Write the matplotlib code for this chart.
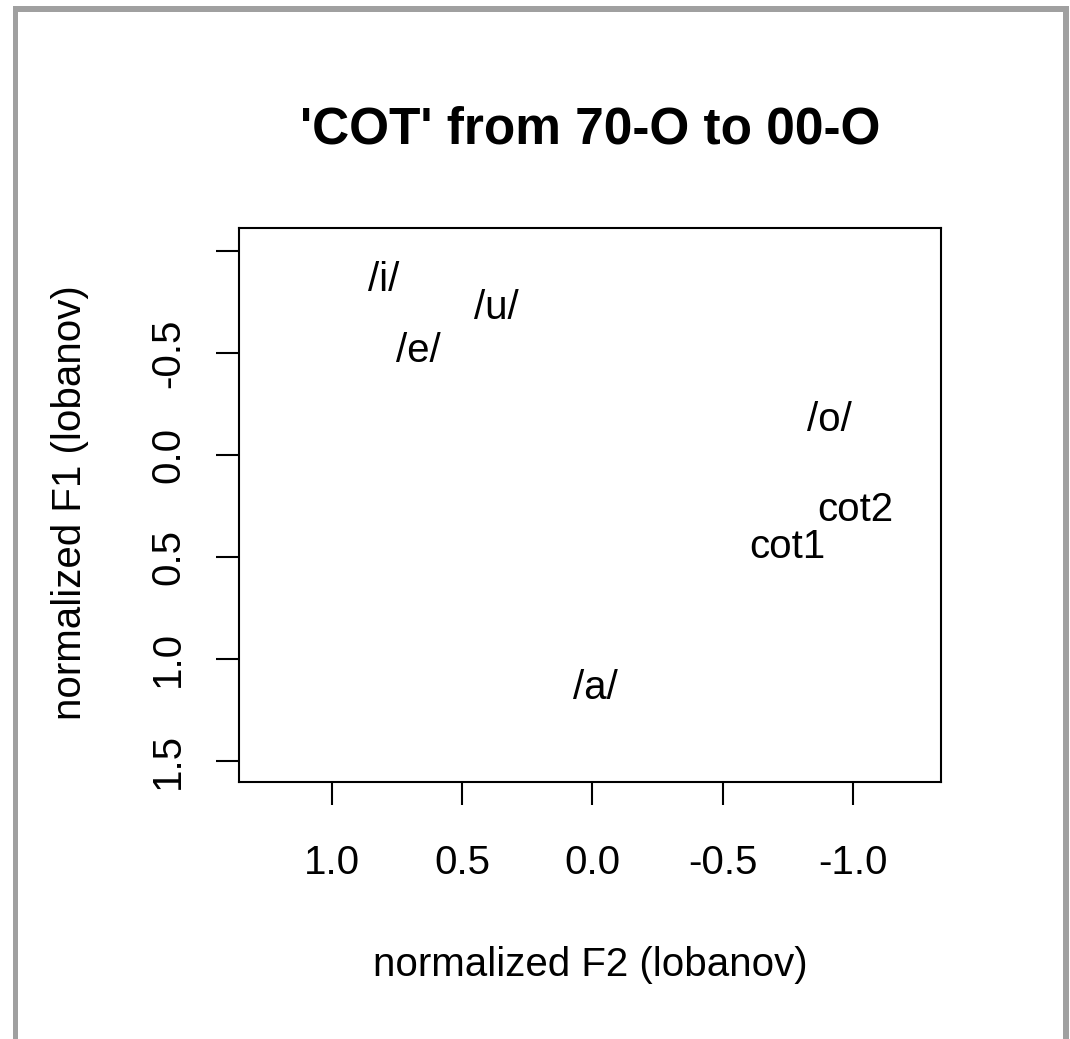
import matplotlib
matplotlib.use('Agg')
import matplotlib.pyplot as plt
from matplotlib.patches import Rectangle

plt.rcParams['font.family'] = ['Liberation Sans', 'DejaVu Sans']

# vowel / token labels and their lobanov-normalized positions
labels = ['/i/', '/u/', '/e/', '/o/', 'cot2', 'cot1', '/a/']
f2 = [0.80, 0.37, 0.67, -0.91, -1.01, -0.75, -0.01]
f1 = [-0.86, -0.72, -0.51, -0.17, 0.27, 0.45, 1.14]

xticks = [1.0, 0.5, 0.0, -0.5, -1.0]
xticklabels = ['1.0', '0.5', '0.0', '-0.5', '-1.0']
yticks = [-1.0, -0.5, 0.0, 0.5, 1.0, 1.5]
yticklabels = ['', '-0.5', '0.0', '0.5', '1.0', '1.5']

W, H = 1070, 1039
fig = plt.figure(figsize=(W / 100, H / 100), dpi=100)

# grey frame around the picture (no bottom edge)
grey = '#a0a0a0'
fig.add_artist(Rectangle((13 / W, 1 - 12 / H), (1069 - 13) / W, 6 / H,
                         transform=fig.transFigure, color=grey, lw=0))
fig.add_artist(Rectangle((13 / W, 0), 5 / W, 1 - 6 / H,
                         transform=fig.transFigure, color=grey, lw=0))
fig.add_artist(Rectangle((1063 / W, 0), 6 / W, 1 - 6 / H,
                         transform=fig.transFigure, color=grey, lw=0))

ax = fig.add_axes([239 / W, 1 - 782 / H, (941 - 239) / W, (782 - 228) / H])
ax.set_xlim(1.357, -1.338)
ax.set_ylim(1.603, -1.113)

for lab, x, y in zip(labels, f2, f1):
    ax.text(x, y, lab, fontsize=29, ha='center', va='center')

ax.set_xticks(xticks)
ax.set_xticklabels(xticklabels, fontsize=29)
ax.set_yticks(yticks)
ax.set_yticklabels(yticklabels, fontsize=29, rotation=90, va='center')
ax.tick_params(axis='x', length=16.5, width=1.5, pad=28)
ax.tick_params(axis='y', length=16.5, width=1.5, pad=21)
for s in ax.spines.values():
    s.set_linewidth(1.5)

fig.text(590 / W, 1 - 130 / H, "'COT' from 70-O to 00-O", fontsize=37,
         fontweight='bold', ha='center', va='center')
fig.text(590 / W, 1 - 965 / H, 'normalized F2 (lobanov)', fontsize=29,
         ha='center', va='center')
fig.text(70 / W, 1 - 503 / H, 'normalized F1 (lobanov)', fontsize=29,
         ha='center', va='center', rotation=90)

fig.savefig('out.png', dpi=100)
